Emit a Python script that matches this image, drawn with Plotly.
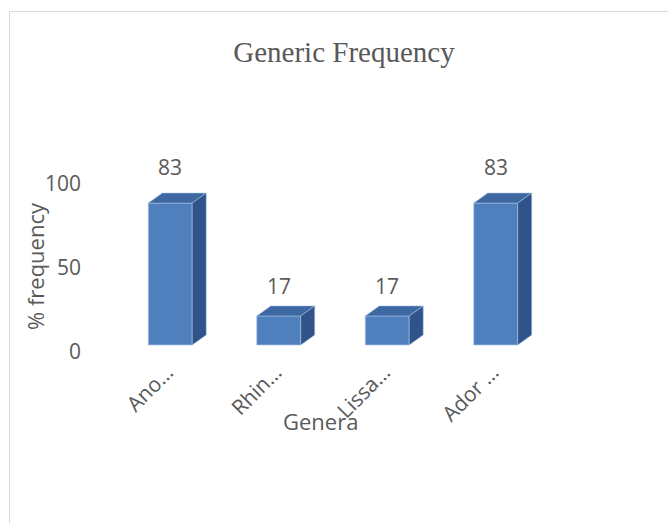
import plotly.graph_objects as go

# Chart data
genera = ["Ano…", "Rhin…", "Lissa…", "Ador …"]
frequency = [83, 17, 17, 83]
y_ticks = [0, 50, 100]

# Figure geometry (pixels)
W, H = 668, 523
ML, MR, MT, MB = 116, 118, 157, 163
PW, PH = W - ML - MR, H - MT - MB

# 3-D extrusion of the bars, in data units
BAR_W = 0.405
DEPTH_X = 0.129
DEPTH_Y = 5.85

FRONT = "#4f7fbc"
TOP = "#3e68a2"
SIDE = "#30548a"
EDGE = "rgba(170,195,230,0.9)"
TEXT = "#595959"
FONT = "Open Sans"


def px_x(p):
    return (p - ML) / PW


def px_y(p):
    return (H - MB - p) / PH


fig = go.Figure()

xs = list(range(len(genera)))
for i, v in zip(xs, frequency):
    l, r = i - BAR_W / 2, i + BAR_W / 2
    # top face
    fig.add_trace(go.Scatter(
        x=[l, r, r + DEPTH_X, l + DEPTH_X, l],
        y=[v, v, v + DEPTH_Y, v + DEPTH_Y, v],
        fill="toself", fillcolor=TOP, mode="lines",
        line=dict(color=EDGE, width=0.6), hoverinfo="skip", showlegend=False,
    ))
    # side face
    fig.add_trace(go.Scatter(
        x=[r, r + DEPTH_X, r + DEPTH_X, r, r],
        y=[0, DEPTH_Y, v + DEPTH_Y, v, 0],
        fill="toself", fillcolor=SIDE, mode="lines",
        line=dict(color=EDGE, width=0.6), hoverinfo="skip", showlegend=False,
    ))

# front faces
fig.add_trace(go.Bar(
    x=xs, y=frequency, width=BAR_W,
    marker=dict(color=FRONT, line=dict(color=EDGE, width=0.8)),
    showlegend=False,
))

# value labels
for i, v in zip(xs, frequency):
    fig.add_annotation(
        x=i, y=v, xref="x", yref="y", text=str(v), showarrow=False,
        yshift=33 + (v - 50) * 0.09, font=dict(family=FONT, size=21, color=TEXT),
    )

# axis titles
fig.add_annotation(
    x=px_x(320), y=px_y(421), xref="paper", yref="paper", text="Genera",
    showarrow=False, xanchor="center", yanchor="middle",
    font=dict(family=FONT, size=22, color=TEXT),
)
fig.add_annotation(
    x=px_x(35), y=px_y(266), xref="paper", yref="paper", text="% frequency",
    showarrow=False, textangle=-90, xanchor="center", yanchor="middle",
    font=dict(family=FONT, size=22, color=TEXT),
)

# chart-area border
border = dict(color="#d9d9d9", width=1)
fig.add_shape(type="line", xref="paper", yref="paper",
              x0=px_x(9.5), x1=px_x(W), y0=px_y(11.5), y1=px_y(11.5), line=border)
fig.add_shape(type="line", xref="paper", yref="paper",
              x0=px_x(9.5), x1=px_x(9.5), y0=px_y(11.5), y1=px_y(H), line=border)

fig.update_layout(
    width=W, height=H,
    margin=dict(l=ML, r=MR, t=MT, b=MB, autoexpand=False),
    paper_bgcolor="white", plot_bgcolor="white",
    title=dict(
        text="Generic Frequency", x=344 / W, y=1 - 52 / H,
        xanchor="center", yanchor="middle", xref="container", yref="container",
        font=dict(family="Liberation Serif", size=29, color=TEXT),
    ),
    xaxis=dict(
        range=[-0.5, 3.5], tickvals=xs, ticktext=genera, tickangle=-45,
        showgrid=False, zeroline=False, showline=False, ticks="",
        tickfont=dict(family=FONT, size=21, color=TEXT),
        automargin=False, ticklabelstandoff=-5, ticklabelshift=-3,
    ),
    yaxis=dict(
        range=[-15 / 1.71, 188 / 1.71], showticklabels=False,
        showgrid=False, zeroline=False, showline=False, ticks="",
        automargin=False,
    ),
    yaxis2=dict(
        overlaying="y", side="left", range=[-8 / 1.68, 195 / 1.68],
        tickvals=y_ticks, ticktext=[str(t) for t in y_ticks],
        showgrid=False, zeroline=False, showline=False, ticks="",
        tickfont=dict(family=FONT, size=21, color=TEXT),
        ticklabelstandoff=34, automargin=False,
    ),
)

# ghost trace so the tick axis is drawn
fig.add_trace(go.Scatter(x=[None], y=[None], yaxis="y2", showlegend=False,
                         hoverinfo="skip"))

fig.write_html("out.html")
